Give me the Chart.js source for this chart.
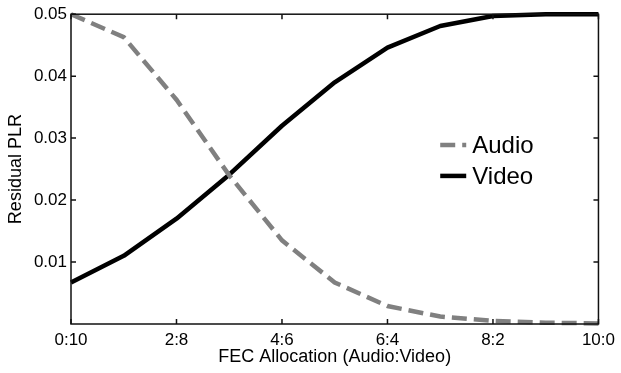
<!DOCTYPE html>
<html>
<head>
<meta charset="utf-8">
<script src="https://cdn.jsdelivr.net/npm/chart.js@4/dist/chart.umd.min.js"></script>
<style>
  html, body { margin: 0; padding: 0; background: #fff; }
  #wrap { width: 621px; height: 373px; }
</style>
</head>
<body>
<div id="wrap"><canvas id="c" width="621" height="373"></canvas></div>
<script>
const categories = ['0:10','1:9','2:8','3:7','4:6','5:5','6:4','7:3','8:2','9:1','10:0'];
const audioPLR = [0.05, 0.0463, 0.0362, 0.0240, 0.0135, 0.0067, 0.0029, 0.0012, 0.0005, 0.0002, 0.0001];
const videoPLR = [0.0067, 0.0110, 0.0170, 0.0241, 0.0320, 0.0390, 0.0446, 0.0481, 0.0497, 0.0500, 0.0500];
const yTicks = [0.01, 0.02, 0.03, 0.04, 0.05];
const seriesNames = ['Audio', 'Video'];

const FONT = '"Liberation Sans", Arial, Helvetica, sans-serif';

const boxPlugin = {
  id: 'boxPlugin',
  afterDatasetsDraw(chart) {
    const {ctx, chartArea: a, scales} = chart;
    ctx.save();
    ctx.strokeStyle = '#111';
    ctx.lineWidth = 1.5;
    ctx.strokeRect(a.left, a.top, a.right - a.left, a.bottom - a.top);
    const tl = 5;
    ctx.beginPath();
    scales.x.ticks.forEach((t, i) => {
      if (t.label === '' ) return;
      const x = scales.x.getPixelForTick(i);
      ctx.moveTo(x, a.bottom); ctx.lineTo(x, a.bottom - tl);
      ctx.moveTo(x, a.top); ctx.lineTo(x, a.top + tl);
    });
    yTicks.forEach(v => {
      const y = scales.y.getPixelForValue(v);
      ctx.moveTo(a.left, y); ctx.lineTo(a.left + tl, y);
      ctx.moveTo(a.right, y); ctx.lineTo(a.right - tl, y);
    });
    ctx.stroke();
    ctx.restore();
  }
};

const legendPlugin = {
  id: 'inLegend',
  afterDraw(chart) {
    const {ctx, chartArea: a} = chart;
    const w = a.right - a.left, h = a.bottom - a.top;
    const x0 = a.left + 0.70 * w;
    const lineLen = 26;
    const ys = [a.top + 0.422 * h, a.top + 0.522 * h];
    ctx.save();
    chart.data.datasets.forEach((ds, i) => {
      const y = ys[i];
      ctx.strokeStyle = ds.borderColor;
      ctx.lineWidth = ds.borderWidth;
      ctx.setLineDash(ds.borderDash || []);
      ctx.beginPath();
      ctx.moveTo(x0, y); ctx.lineTo(x0 + lineLen, y);
      ctx.stroke();
      ctx.setLineDash([]);
      ctx.fillStyle = '#000';
      ctx.font = '24px ' + FONT;
      ctx.textBaseline = 'middle';
      ctx.textAlign = 'left';
      ctx.fillText(ds.label, x0 + lineLen + 6, y + 1);
    });
    ctx.restore();
  }
};

new Chart(document.getElementById('c'), {
  type: 'line',
  data: {
    labels: categories,
    datasets: [
      {
        label: seriesNames[0],
        data: audioPLR,
        borderColor: '#808080',
        borderWidth: 4.5,
        borderDash: [15, 7],
        pointRadius: 0,
        fill: false,
        tension: 0,
        clip: false,
        borderJoinStyle: 'miter'
      },
      {
        label: seriesNames[1],
        data: videoPLR,
        borderColor: '#000000',
        borderWidth: 4.5,
        pointRadius: 0,
        fill: false,
        tension: 0,
        clip: false,
        borderJoinStyle: 'round'
      }
    ]
  },
  options: {
    responsive: false,
    animation: false,
    devicePixelRatio: 1,
    layout: { padding: { top: 9, right: 14, left: 0, bottom: 0 } },
    plugins: {
      legend: { display: false },
      tooltip: { enabled: false },
      title: { display: false }
    },
    scales: {
      x: {
        type: 'category',
        offset: false,
        grid: { display: false, drawTicks: false },
        border: { display: false },
        ticks: {
          autoSkip: false,
          maxRotation: 0,
          padding: 6,
          color: '#000',
          font: { family: FONT, size: 17 },
          callback: function(v, i) { return i % 2 === 0 ? categories[i] : ''; }
        },
        title: {
          display: true,
          text: 'FEC Allocation (Audio:Video)',
          color: '#000',
          font: { family: FONT, size: 18 },
          padding: 5
        },
        afterFit(scale) { scale.height = 49; }
      },
      y: {
        min: 0,
        max: 0.05,
        grid: { display: false, drawTicks: false },
        border: { display: false },
        afterBuildTicks(scale) {
          scale.ticks = [0].concat(yTicks).map(v => ({ value: v }));
        },
        ticks: {
          padding: 4,
          color: '#000',
          font: { family: FONT, size: 17 },
          callback: function(v) { return v === 0 ? '' : v.toFixed(2); }
        },
        title: {
          display: true,
          text: 'Residual PLR',
          color: '#000',
          font: { family: FONT, size: 18 },
          padding: 5
        },
        afterFit(scale) { scale.width = 71; }
      }
    }
  },
  plugins: [boxPlugin, legendPlugin]
});
</script>
</body>
</html>
